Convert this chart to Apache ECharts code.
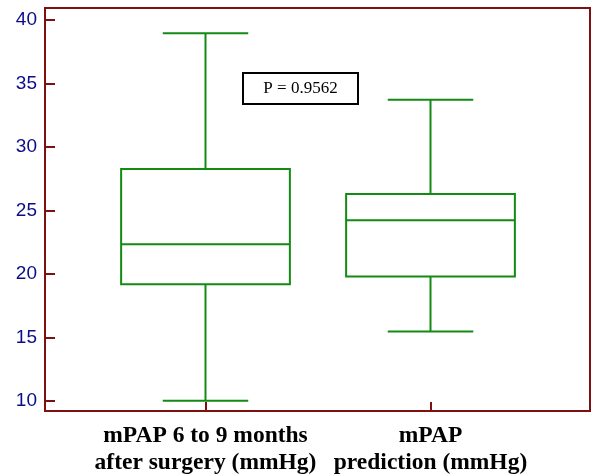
<!DOCTYPE html>
<html>
<head>
<meta charset="utf-8">
<script src="https://cdn.jsdelivr.net/npm/echarts@6/dist/echarts.min.js"></script>
<style>html,body{margin:0;padding:0;background:#fff}#c{width:592px;height:476px}</style>
</head>
<body>
<div id="c"></div>
<script>
// ---- data ----
var categories = ['mPAP 6 to 9 months\nafter surgery (mmHg)', 'mPAP\nprediction (mmHg)'];
var minVals = [10.0, 15.45];
var q1Vals = [19.17, 19.78];
var medianVals = [22.32, 24.23];
var q3Vals = [28.26, 26.28];
var maxVals = [38.95, 33.72];
var yTicks = [10, 15, 20, 25, 30, 35, 40];
var pText = 'P = 0.9562';

var yMin = 9.19, yMax = 40.945;
var frameColor = '#7d1010';
var green = '#138a13';

var boxData = categories.map(function (c, i) {
  return [i, minVals[i], q1Vals[i], medianVals[i], q3Vals[i], maxVals[i]];
});

function renderBox(params, api) {
  var idx = api.value(0);
  var band = api.size([1, 0])[0];
  var halfBox = band * 0.375;
  var halfCap = band * 0.19;
  var pMin = api.coord([idx, api.value(1)]);
  var pQ1 = api.coord([idx, api.value(2)]);
  var pMed = api.coord([idx, api.value(3)]);
  var pQ3 = api.coord([idx, api.value(4)]);
  var pMax = api.coord([idx, api.value(5)]);
  var cx = pMed[0];
  var st = { stroke: green, lineWidth: 2, fill: 'none' };
  return {
    type: 'group',
    children: [
      { type: 'rect', shape: { x: cx - halfBox, y: pQ3[1], width: halfBox * 2, height: pQ1[1] - pQ3[1] }, style: st },
      { type: 'line', shape: { x1: cx - halfBox, y1: pMed[1], x2: cx + halfBox, y2: pMed[1] }, style: st },
      { type: 'line', shape: { x1: cx, y1: pQ3[1], x2: cx, y2: pMax[1] }, style: st },
      { type: 'line', shape: { x1: cx, y1: pQ1[1], x2: cx, y2: pMin[1] }, style: st },
      { type: 'line', shape: { x1: cx - halfCap, y1: pMax[1], x2: cx + halfCap, y2: pMax[1] }, style: st },
      { type: 'line', shape: { x1: cx - halfCap, y1: pMin[1], x2: cx + halfCap, y2: pMin[1] }, style: st }
    ]
  };
}

var chart = echarts.init(document.getElementById('c'));
chart.setOption({
  animation: false,
  backgroundColor: '#fff',
  grid: [
    { left: 45, right: 2, top: 8, bottom: 65, show: true, borderColor: frameColor, borderWidth: 2, backgroundColor: 'transparent' },
    { left: 93, right: 49, top: 8, bottom: 65 }
  ],
  xAxis: [
    { type: 'value', gridIndex: 0, show: false, min: 0, max: 1 },
    {
      type: 'category', gridIndex: 1, data: categories,
      axisLine: { show: false },
      axisTick: { show: true, inside: true, length: 9, alignWithLabel: true, lineStyle: { color: frameColor, width: 2 } },
      axisLabel: {
        margin: 11, color: '#000', fontFamily: 'Liberation Serif', fontWeight: 'bold',
        fontSize: 23.5, lineHeight: 27, interval: 0
      },
      splitLine: { show: false }
    }
  ],
  yAxis: [
    {
      type: 'value', gridIndex: 0, min: yMin, max: yMax,
      axisLine: { show: false },
      axisTick: { show: true, inside: true, length: 10, customValues: yTicks, lineStyle: { color: frameColor, width: 2 } },
      axisLabel: { customValues: yTicks, margin: 8, color: '#0c0c88', fontFamily: 'Liberation Sans', fontSize: 19 },
      splitLine: { show: false }
    },
    { type: 'value', gridIndex: 1, min: yMin, max: yMax, show: false, splitLine: { show: false } }
  ],
  series: [{
    type: 'custom',
    xAxisIndex: 1, yAxisIndex: 1,
    renderItem: renderBox,
    encode: { x: 0, y: [1, 2, 3, 4, 5] },
    data: boxData,
    z: 3
  }],
  graphic: [{
    type: 'group',
    left: 242, top: 72,
    children: [
      { type: 'rect', shape: { x: 0, y: 0, width: 115, height: 31 }, style: { fill: '#fff', stroke: '#000', lineWidth: 2 } },
      { type: 'text', x: 57.5, y: 16, style: { text: pText, fontFamily: 'Liberation Serif', fontSize: 17, fill: '#000', align: 'center', verticalAlign: 'middle' } }
    ]
  }]
});
</script>
</body>
</html>
